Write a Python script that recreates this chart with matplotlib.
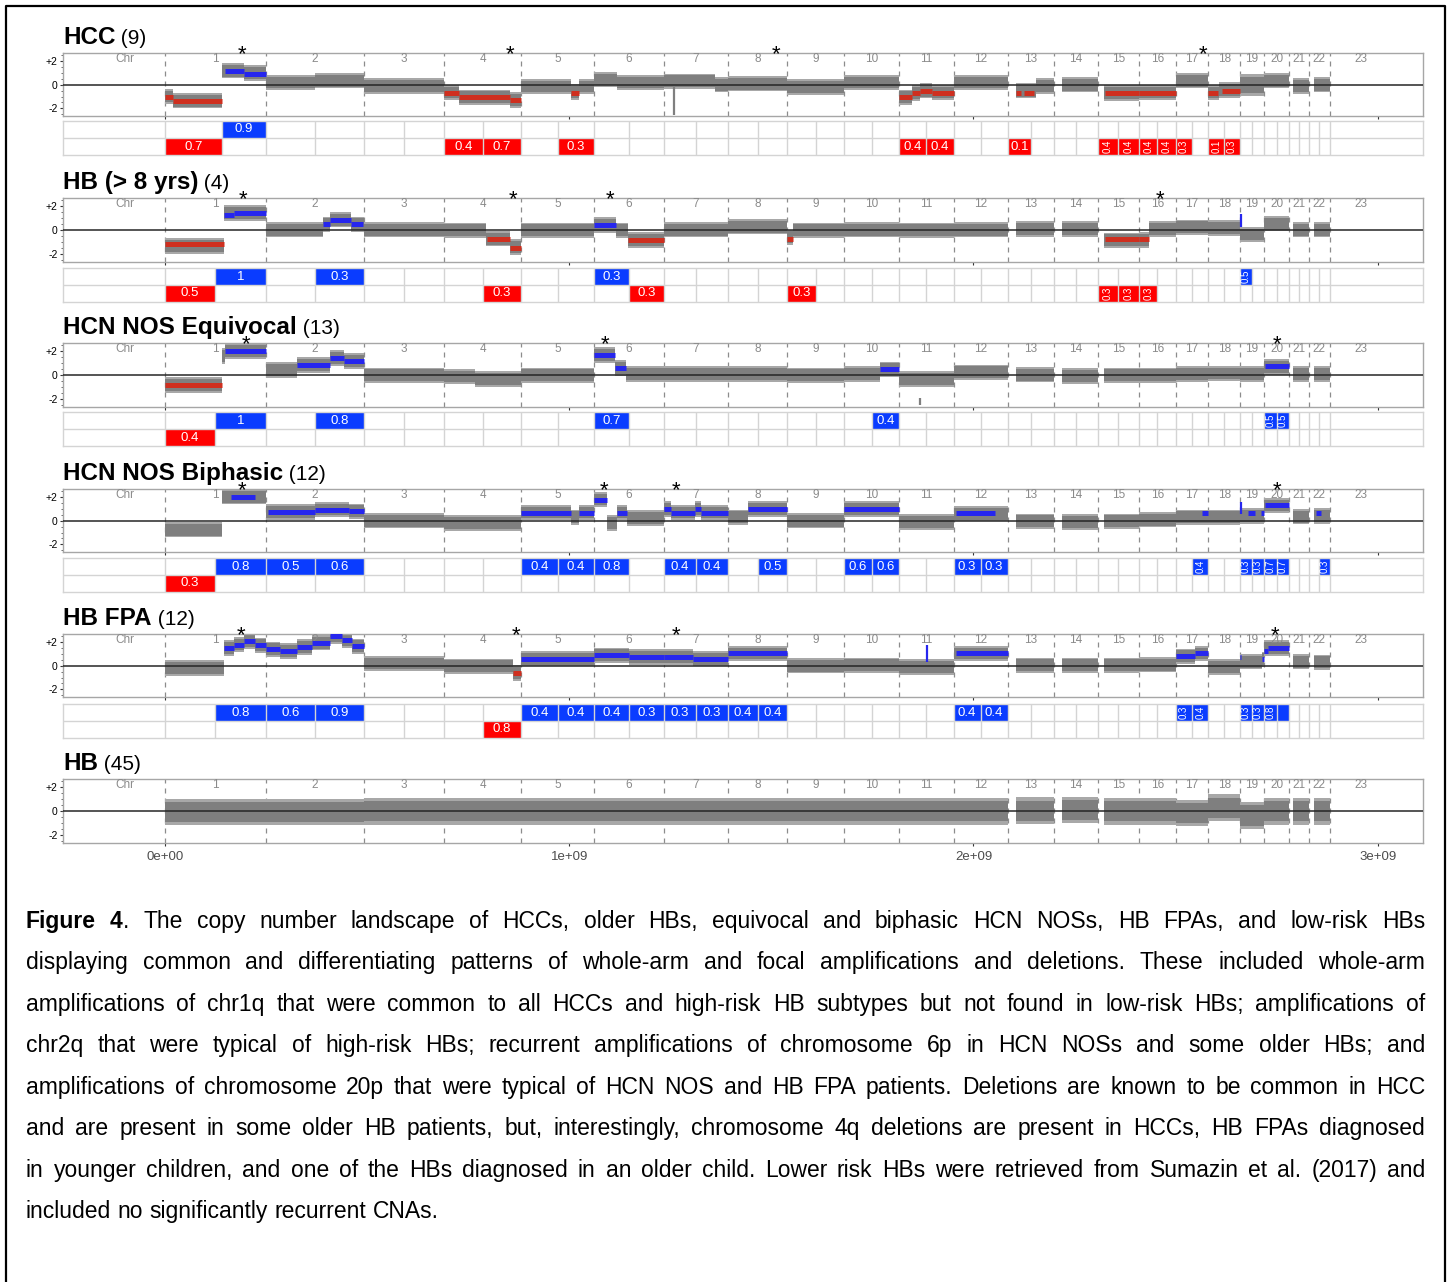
import numpy as np
import matplotlib
matplotlib.use("Agg")
import matplotlib.pyplot as plt
from matplotlib.lines import Line2D
from matplotlib.patches import Rectangle
from matplotlib.ticker import MultipleLocator
from matplotlib.font_manager import FontProperties

plt.rcParams['font.family'] = ['Liberation Sans', 'DejaVu Sans']

####################################################################################################
# DATA
####################################################################################################

chrom_names = [str(i) for i in range(1, 24)]
chrom_len_mb = [249.25, 243.2, 198.0, 191.15, 180.9, 171.1, 159.1, 146.4, 141.2, 135.5, 135.0,
                133.85, 115.2, 107.35, 102.5, 90.35, 81.2, 78.1, 59.1, 63.0, 48.1, 51.3, 155.3]

titles = ['HCC', 'HB (> 8 yrs)', 'HCN NOS Equivocal', 'HCN NOS Biphasic', 'HB FPA', 'HB']
counts = ['(9)', '(4)', '(13)', '(12)', '(12)', '(45)']

# gray clouds: (chrom, start frac, end frac, level[, half width])
hcc_gray = [(1, 0.0, 0.08, -1.0), (1, 0.08, 0.57, -1.35), (1, 0.57, 0.79, 1.2), (1, 0.79, 1.0, 1.0),
            (2, 0.0, 0.5, 0.2), (2, 0.5, 1.0, 0.35), (3, 0.0, 1.0, -0.1),
            (4, 0.0, 0.2, -0.65), (4, 0.2, 0.85, -1.05), (4, 0.85, 1.0, -1.3),
            (5, 0.0, 0.68, -0.15), (5, 0.68, 0.79, -0.6), (5, 0.79, 1.0, -0.15),
            (6, 0.0, 0.33, 0.45), (6, 0.33, 1.0, 0.2), (7, 0.0, 0.8, 0.3), (7, 0.8, 1.0, 0.0),
            (8, 0.0, 1.0, 0.1), (9, 0.0, 1.0, -0.2), (10, 0.0, 1.0, 0.2),
            (11, 0.0, 0.24, -1.05), (11, 0.24, 0.38, -0.7), (11, 0.38, 0.6, -0.5), (11, 0.6, 1.0, -0.65),
            (12, 0.0, 1.0, 0.2), (13, 0.17, 0.6, -0.5), (13, 0.6, 1.0, -0.1), (14, 0.18, 1.0, 0.0),
            (15, 0.15, 1.0, -0.7), (16, 0.0, 1.0, -0.65), (17, 0.0, 1.0, 0.35),
            (18, 0.0, 0.35, -0.65), (18, 0.35, 1.0, -0.45), (19, 0.0, 1.0, 0.0, 0.7),
            (20, 0.0, 1.0, 0.35), (21, 0.17, 1.0, -0.1), (22, 0.24, 1.0, 0.0)]
hcc_amp = [(1, 0.6, 0.79, 1.2), (1, 0.79, 1.0, 0.95)]
hcc_del = [(1, 0.0, 0.08, -1.0), (1, 0.08, 0.57, -1.35), (4, 0.0, 0.2, -0.67), (4, 0.2, 0.85, -1.07),
           (4, 0.85, 1.0, -1.26), (5, 0.68, 0.79, -0.7), (11, 0.0, 0.24, -1.07), (11, 0.24, 0.38, -0.67),
           (11, 0.38, 0.6, -0.5), (11, 0.6, 1.0, -0.67), (13, 0.18, 0.28, -0.7), (13, 0.35, 0.56, -0.7),
           (15, 0.17, 1.0, -0.7), (16, 0.0, 1.0, -0.7), (18, 0.0, 0.3, -0.7), (18, 0.42, 1.0, -0.5)]
hcc_spikes = [(7, 0.16, -2.6, 0.0, 'gray')]
hcc_amp_cells = [(1, 1, '0.9')]
hcc_del_cells = [(1, 0, '0.7'), (4, 0, '0.4'), (4, 1, '0.7'), (5, 1, '0.3'), (11, 0, '0.4'), (11, 1, '0.4'),
                 (13, 0, '0.1'), (15, 0, '0.4'), (15, 1, '0.4'), (16, 0, '0.4'), (16, 1, '0.4'),
                 (17, 0, '0.3'), (18, 0, '0.1'), (18, 1, '0.3')]
hcc_stars = [(1, 0.77), (4, 0.85), (8, 0.81), (17, 0.83)]

hb8_gray = [(1, 0.0, 0.585, -1.3), (1, 0.585, 1.0, 1.45),
            (2, 0.0, 0.58, 0.05), (2, 0.58, 0.65, 0.5), (2, 0.65, 0.87, 0.9), (2, 0.87, 1.0, 0.5),
            (3, 0.0, 1.0, 0.05), (4, 0.0, 0.54, 0.0), (4, 0.54, 0.85, -0.7), (4, 0.85, 1.0, -1.4),
            (5, 0.0, 1.0, 0.0), (6, 0.0, 0.31, 0.45), (6, 0.31, 0.48, 0.0), (6, 0.48, 1.0, -0.8),
            (7, 0.0, 1.0, 0.05), (8, 0.0, 1.0, 0.3), (9, 0.0, 0.1, -0.6), (9, 0.1, 1.0, 0.0),
            (10, 0.0, 1.0, 0.05), (11, 0.0, 1.0, 0.0), (12, 0.0, 1.0, 0.05), (13, 0.17, 1.0, 0.1),
            (14, 0.18, 1.0, 0.1), (15, 0.15, 1.0, -0.85), (16, 0.0, 0.27, -0.8), (16, 0.27, 1.0, 0.1),
            (17, 0.0, 1.0, 0.25), (18, 0.0, 1.0, 0.2), (19, 0.0, 1.0, -0.35), (20, 0.0, 1.0, 0.55),
            (21, 0.17, 1.0, 0.05), (22, 0.24, 1.0, 0.05)]
hb8_amp = [(1, 0.585, 0.69, 1.25), (1, 0.69, 1.0, 1.45), (2, 0.58, 0.65, 0.5), (2, 0.65, 0.87, 0.85),
           (2, 0.87, 0.99, 0.5), (6, 0.0, 0.31, 0.45)]
hb8_del = [(1, 0.0, 0.585, -1.15), (4, 0.56, 0.85, -0.75), (4, 0.85, 1.0, -1.5), (6, 0.48, 1.0, -0.85),
           (9, 0.0, 0.1, -0.7), (15, 0.17, 1.0, -0.75), (16, 0.0, 0.27, -0.75)]
hb8_spikes = [(19, 0.04, 0.3, 1.4, 'blue')]
hb8_amp_cells = [(1, 1, '1'), (2, 1, '0.3'), (6, 0, '0.3'), (19, 0, '0.5')]
hb8_del_cells = [(1, 0, '0.5'), (4, 1, '0.3'), (6, 1, '0.3'), (9, 0, '0.3'), (15, 0, '0.3'),
                 (15, 1, '0.3'), (16, 0, '0.3')]
hb8_stars = [(1, 0.78), (4, 0.89), (6, 0.22), (16, 0.57)]

eq_gray = [(1, 0.0, 0.57, -0.8), (1, 0.57, 0.6, 1.6), (1, 0.6, 1.0, 2.0),
           (2, 0.0, 0.32, 0.45), (2, 0.32, 0.65, 0.85), (2, 0.65, 0.8, 1.45), (2, 0.8, 1.0, 1.2),
           (3, 0.0, 1.0, 0.0), (4, 0.0, 0.4, -0.1), (4, 0.4, 1.0, -0.3), (5, 0.0, 1.0, 0.0),
           (6, 0.0, 0.3, 1.7), (6, 0.3, 0.46, 0.6), (6, 0.46, 1.0, 0.1),
           (7, 0.0, 1.0, 0.1), (8, 0.0, 1.0, 0.1), (9, 0.0, 1.0, 0.0), (10, 0.0, 0.65, 0.1),
           (10, 0.65, 1.0, 0.5), (11, 0.0, 1.0, -0.3), (12, 0.0, 1.0, 0.25), (13, 0.17, 1.0, 0.05),
           (14, 0.18, 1.0, -0.05), (15, 0.15, 1.0, 0.0), (16, 0.0, 1.0, 0.0), (17, 0.0, 1.0, 0.1),
           (18, 0.0, 1.0, 0.15), (19, 0.0, 1.0, 0.1), (20, 0.0, 1.0, 0.7), (21, 0.17, 1.0, 0.1),
           (22, 0.24, 1.0, 0.1)]
eq_amp = [(1, 0.6, 1.0, 2.0), (2, 0.32, 0.65, 0.85), (2, 0.65, 0.8, 1.45), (2, 0.8, 1.0, 1.2),
          (6, 0.0, 0.3, 1.7), (6, 0.3, 0.46, 0.6), (10, 0.65, 1.0, 0.5), (20, 0.05, 1.0, 0.75)]
eq_del = [(1, 0.0, 0.57, -0.8)]
eq_spikes = [(11, 0.38, -2.5, -1.9, 'gray')]
eq_amp_cells = [(1, 1, '1'), (2, 1, '0.8'), (6, 0, '0.7'), (10, 1, '0.4'), (20, 0, '0.5'), (20, 1, '0.5')]
eq_del_cells = [(1, 0, '0.4')]
eq_stars = [(1, 0.81), (6, 0.16), (20, 0.51)]

bi_gray = [(1, 0.0, 0.57, -0.75), (1, 0.57, 1.0, 2.05),
           (2, 0.0, 0.5, 0.75), (2, 0.5, 0.85, 0.95), (2, 0.85, 1.0, 0.8),
           (3, 0.0, 1.0, 0.0), (4, 0.0, 1.0, -0.2),
           (5, 0.0, 0.68, 0.7), (5, 0.68, 0.79, 0.3), (5, 0.79, 1.0, 0.7),
           (6, 0.0, 0.18, 1.8), (6, 0.18, 0.32, -0.2), (6, 0.32, 0.47, 0.7), (6, 0.47, 1.0, 0.25),
           (7, 0.0, 0.11, 1.0), (7, 0.11, 0.49, 0.7), (7, 0.49, 0.58, 1.0), (7, 0.58, 1.0, 0.7),
           (8, 0.0, 0.34, 0.3), (8, 0.34, 1.0, 1.0), (9, 0.0, 1.0, 0.0), (10, 0.0, 1.0, 1.0),
           (11, 0.0, 1.0, -0.1), (12, 0.0, 1.0, 0.6), (13, 0.17, 1.0, -0.05), (14, 0.18, 1.0, -0.1),
           (15, 0.15, 1.0, -0.05), (16, 0.0, 1.0, 0.1), (17, 0.0, 1.0, 0.3), (18, 0.0, 1.0, 0.3),
           (19, 0.0, 1.0, 0.4), (20, 0.0, 1.0, 1.3), (21, 0.17, 1.0, 0.35), (22, 0.24, 1.0, 0.4)]
bi_amp = [(1, 0.66, 0.89, 2.05), (2, 0.02, 0.5, 0.75), (2, 0.5, 0.85, 0.95), (2, 0.85, 1.0, 0.8),
          (5, 0.0, 0.68, 0.7), (5, 0.79, 1.0, 0.7), (6, 0.0, 0.18, 1.8), (6, 0.32, 0.47, 0.7),
          (7, 0.0, 0.11, 1.0), (7, 0.11, 0.49, 0.7), (7, 0.49, 0.58, 1.0), (7, 0.58, 1.0, 0.7),
          (8, 0.34, 1.0, 1.0), (10, 0.0, 1.0, 1.0), (12, 0.04, 0.76, 0.7), (17, 0.8, 0.98, 0.7),
          (19, 0.35, 0.62, 0.7), (19, 0.88, 1.0, 0.7), (20, 0.05, 1.0, 1.3), (22, 0.34, 0.58, 0.7)]
bi_del = []
bi_spikes = [(19, 0.04, 0.6, 1.6, 'blue')]
bi_amp_cells = [(1, 1, '0.8'), (2, 0, '0.5'), (2, 1, '0.6'), (5, 0, '0.4'), (5, 1, '0.4'), (6, 0, '0.8'),
                (7, 0, '0.4'), (7, 1, '0.4'), (8, 1, '0.5'), (10, 0, '0.6'), (10, 1, '0.6'),
                (12, 0, '0.3'), (12, 1, '0.3'), (17, 1, '0.4'), (19, 0, '0.3'), (19, 1, '0.3'),
                (20, 0, '0.7'), (20, 1, '0.7'), (22, 1, '0.3')]
bi_del_cells = [(1, 0, '0.3')]
bi_stars = [(1, 0.77), (6, 0.14), (7, 0.19), (20, 0.51)]

fpa_gray = [(1, 0.0, 0.585, -0.2), (1, 0.585, 0.69, 1.5), (1, 0.69, 0.79, 1.8), (1, 0.79, 0.89, 2.1),
            (1, 0.89, 1.0, 1.75), (2, 0.0, 0.145, 1.4), (2, 0.145, 0.315, 1.25), (2, 0.315, 0.467, 1.6),
            (2, 0.467, 0.653, 1.95), (2, 0.653, 0.772, 2.5), (2, 0.772, 0.874, 2.15), (2, 0.874, 1.0, 1.65),
            (3, 0.0, 1.0, 0.2), (4, 0.0, 0.89, -0.05), (4, 0.89, 1.0, -0.6),
            (5, 0.0, 1.0, 0.6), (6, 0.0, 0.5, 0.9), (6, 0.5, 1.0, 0.75), (7, 0.0, 0.45, 0.75),
            (7, 0.45, 1.0, 0.6), (8, 0.0, 1.0, 1.05), (9, 0.0, 1.0, 0.0), (10, 0.0, 1.0, 0.05),
            (11, 0.0, 1.0, -0.1), (12, 0.0, 1.0, 1.05), (13, 0.17, 1.0, 0.05), (14, 0.18, 1.0, 0.05),
            (15, 0.15, 1.0, 0.05), (16, 0.0, 1.0, 0.1), (17, 0.0, 0.585, 0.8), (17, 0.585, 1.0, 1.05),
            (18, 0.0, 1.0, -0.1), (19, 0.0, 0.9, 0.35), (19, 0.9, 1.0, 0.55), (20, 0.0, 1.0, 1.5),
            (21, 0.17, 1.0, 0.35), (22, 0.24, 1.0, 0.3)]
fpa_amp = [(1, 0.585, 0.69, 1.5), (1, 0.69, 0.79, 1.8), (1, 0.79, 0.89, 2.1), (1, 0.89, 1.0, 1.75),
           (2, 0.0, 0.145, 1.4), (2, 0.145, 0.315, 1.25), (2, 0.315, 0.467, 1.6), (2, 0.467, 0.653, 1.95),
           (2, 0.653, 0.772, 2.5), (2, 0.772, 0.874, 2.15), (2, 0.874, 1.0, 1.65),
           (5, 0.0, 1.0, 0.6), (6, 0.0, 0.5, 0.9), (6, 0.5, 1.0, 0.75), (7, 0.0, 0.45, 0.75),
           (7, 0.45, 1.0, 0.6), (8, 0.0, 1.0, 1.05), (12, 0.04, 1.0, 1.05), (17, 0.02, 0.585, 0.8),
           (17, 0.585, 1.0, 1.05), (19, 0.02, 0.06, 0.75), (19, 0.9, 1.0, 0.55), (20, 0.0, 0.15, 1.25),
           (20, 0.15, 1.0, 1.55)]
fpa_del = [(4, 0.89, 1.0, -0.6)]
fpa_spikes = [(11, 0.51, 0.3, 1.8, 'blue')]
fpa_amp_cells = [(1, 1, '0.8'), (2, 0, '0.6'), (2, 1, '0.9'), (5, 0, '0.4'), (5, 1, '0.4'), (6, 0, '0.4'),
                 (6, 1, '0.3'), (7, 0, '0.3'), (7, 1, '0.3'), (8, 0, '0.4'), (8, 1, '0.4'),
                 (12, 0, '0.4'), (12, 1, '0.4'), (17, 0, '0.3'), (17, 1, '0.4'), (19, 0, '0.3'),
                 (19, 1, '0.3'), (20, 0, '0.8'), (20, 1, '')]
fpa_del_cells = [(4, 1, '0.8')]
fpa_stars = [(1, 0.76), (4, 0.93), (7, 0.19), (20, 0.43)]

hb_gray = [(1, 0.0, 1.0, -0.05, 0.85), (2, 0.0, 1.0, -0.05, 0.85), (3, 0.0, 1.0, 0.0, 0.85),
           (4, 0.0, 1.0, 0.0, 0.85), (5, 0.0, 1.0, 0.0, 0.85), (6, 0.0, 1.0, 0.0, 0.85),
           (7, 0.0, 1.0, 0.0, 0.85), (8, 0.0, 1.0, 0.0, 0.85), (9, 0.0, 1.0, 0.0, 0.85),
           (10, 0.0, 1.0, 0.0, 0.85), (11, 0.0, 1.0, 0.0, 0.85), (12, 0.0, 1.0, 0.0, 0.85),
           (13, 0.17, 1.0, 0.05, 0.85), (14, 0.18, 1.0, 0.1, 0.85), (15, 0.15, 1.0, 0.0, 0.85),
           (16, 0.0, 1.0, 0.0, 0.85), (17, 0.0, 1.0, -0.15, 0.85), (18, 0.0, 1.0, 0.3, 0.85),
           (19, 0.0, 1.0, -0.35, 0.85), (20, 0.0, 1.0, 0.0, 0.85), (21, 0.17, 1.0, 0.0, 0.85),
           (22, 0.24, 1.0, 0.0, 0.85)]

split_override = [{1: 0.57}, {}, {}, {}, {}, {}]

xticks = [0, 1e9, 2e9, 3e9]
xtick_labels = ['0e+00', '1e+09', '2e+09', '3e+09']

caption_bold = 'Figure 4'
caption = [
    'Figure 4. The copy number landscape of HCCs, older HBs, equivocal and biphasic HCN NOSs, HB FPAs, and low-risk HBs',
    'displaying common and differentiating patterns of whole-arm and focal amplifications and deletions. These included whole-arm',
    'amplifications of chr1q that were common to all HCCs and high-risk HB subtypes but not found in low-risk HBs; amplifications of',
    'chr2q that were typical of high-risk HBs; recurrent amplifications of chromosome 6p in HCN NOSs and some older HBs; and',
    'amplifications of chromosome 20p that were typical of HCN NOS and HB FPA patients. Deletions are known to be common in HCC',
    'and are present in some older HB patients, but, interestingly, chromosome 4q deletions are present in HCCs, HB FPAs diagnosed',
    'in younger children, and one of the HBs diagnosed in an older child. Lower risk HBs were retrieved from Sumazin et al. (2017) and',
    'included no significantly recurrent CNAs.',
]

panels = [
    dict(gray=hcc_gray, amp=hcc_amp, dele=hcc_del, spikes=hcc_spikes, acell=hcc_amp_cells, dcell=hcc_del_cells, stars=hcc_stars),
    dict(gray=hb8_gray, amp=hb8_amp, dele=hb8_del, spikes=hb8_spikes, acell=hb8_amp_cells, dcell=hb8_del_cells, stars=hb8_stars),
    dict(gray=eq_gray, amp=eq_amp, dele=eq_del, spikes=eq_spikes, acell=eq_amp_cells, dcell=eq_del_cells, stars=eq_stars),
    dict(gray=bi_gray, amp=bi_amp, dele=bi_del, spikes=bi_spikes, acell=bi_amp_cells, dcell=bi_del_cells, stars=bi_stars),
    dict(gray=fpa_gray, amp=fpa_amp, dele=fpa_del, spikes=fpa_spikes, acell=fpa_amp_cells, dcell=fpa_del_cells, stars=fpa_stars),
    dict(gray=hb_gray, amp=[], dele=[], spikes=[], acell=None, dcell=None, stars=[]),
]

####################################################################################################
# LAYOUT / STYLE
####################################################################################################

W, H = 1449, 1282
MAIN_ROWS = [(53, 116), (198, 262), (343, 407), (489, 552), (634, 697), (779, 843)]
TABLE_ROWS = [(121, 155), (268, 302), (412, 446), (558, 592), (704, 738), None]
X_LEFT, X_RIGHT = 63, 1423
XLIM = (-252e6, 3112e6)
YLIM = (-2.65, 2.7)

GRAY = '#7f7f7f'
HALO = '#a8a8a8'
SEG_BLUE = '#2626ee'
SEG_RED = '#cf2f1f'
CELL_BLUE = '#0a3cff'
CELL_RED = '#ff0000'
GRID = '#d4d4d4'
SPINE = '#a6a6a6'

chrom_start = np.concatenate([[0.0], np.cumsum(chrom_len_mb)[:-1]])


def gx(c, f):
    return (chrom_start[c - 1] + f * chrom_len_mb[c - 1]) * 1e6


fig = plt.figure(figsize=(W / 100, H / 100), dpi=100)
renderer = fig.canvas.get_renderer()


def px_axes(x0, y0, x1, y1):
    return fig.add_axes([x0 / W, 1 - y1 / H, (x1 - x0) / W, (y1 - y0) / H])


def text_width(s, size, weight='normal'):
    prop = FontProperties(family=['Liberation Sans', 'DejaVu Sans'], size=size, weight=weight)
    w, h, d = renderer.get_text_width_height_descent(s, prop, ismath=False)
    return w


spike_colors = {'gray': GRAY, 'blue': SEG_BLUE}

for i, p in enumerate(panels):
    top, bot = MAIN_ROWS[i]
    ax = px_axes(X_LEFT, top, X_RIGHT, bot)
    ax.set_xlim(*XLIM)
    ax.set_ylim(*YLIM)
    for s in ax.spines.values():
        s.set_color(SPINE)
        s.set_linewidth(1.0)

    # chromosome boundaries and labels
    for c in range(1, 24):
        ax.axvline(gx(c, 0), color='#8c8c8c', lw=0.9, ls=(0, (4, 4)), zorder=1)
        ax.text(gx(c, 0.5), 2.2, chrom_names[c - 1], ha='center', va='center',
                fontsize=8.5, color='#8a8a8a')
    ax.text(-100e6, 2.2, 'Chr', ha='center', va='center', fontsize=8.5, color='#8a8a8a')

    # gray clouds (dense core plus sparse halo)
    for seg in p['gray']:
        c, f0, f1, lvl = seg[:4]
        hw = seg[4] if len(seg) > 4 else 0.5
        x0, x1 = gx(c, f0), gx(c, f1)
        ax.add_patch(Rectangle((x0, lvl - hw * 1.3), x1 - x0, 2.6 * hw,
                               facecolor=HALO, edgecolor='none', zorder=2))
        ax.add_patch(Rectangle((x0, lvl - hw), x1 - x0, 2 * hw,
                               facecolor=GRAY, edgecolor='none', zorder=2))
    for c, f, y0, y1, col in p['spikes']:
        ax.vlines(gx(c, f), y0, y1, colors=spike_colors[col], lw=1.6, zorder=3)

    ax.axhline(0, color='#262626', lw=1.1, zorder=4)

    for c, f0, f1, lvl in p['amp']:
        ax.hlines(lvl, gx(c, f0), gx(c, f1), colors=SEG_BLUE, lw=3.6, zorder=5)
    for c, f0, f1, lvl in p['dele']:
        ax.hlines(lvl, gx(c, f0), gx(c, f1), colors=SEG_RED, lw=3.6, zorder=5)

    for c, f in p['stars']:
        ax.annotate('*', xy=(gx(c, f), YLIM[1]), xytext=(0, -5.3), textcoords='offset points',
                    ha='center', va='baseline', fontsize=16, color='black', annotation_clip=False)

    # axes ticks
    ax.set_yticks([-2, 0, 2])
    ax.set_yticklabels(['-2', '0', '+2'])
    ax.yaxis.set_minor_locator(MultipleLocator(0.5))
    ax.tick_params(axis='y', which='major', labelsize=7.5, length=2.5, width=0.8, pad=1.5,
                   color='#333333', labelcolor='black')
    ax.tick_params(axis='y', which='minor', length=1.6, width=0.6, color='#555555')
    ax.set_xticks(xticks)
    ax.tick_params(axis='x', length=2.5, width=0.8, color='#333333', pad=3)
    if i == len(panels) - 1:
        ax.set_xticklabels(xtick_labels, fontsize=9.5, color='#4d4d4d')
    else:
        ax.set_xticklabels([])

    # title
    tb = top - 9
    t = fig.text(X_LEFT / W, 1 - tb / H, titles[i], fontsize=17.5, fontweight='bold', va='baseline')
    tw = t.get_window_extent(renderer).width
    fig.text((X_LEFT + tw) / W, 1 - tb / H, ' ' + counts[i], fontsize=15, va='baseline')

    # frequency table
    if TABLE_ROWS[i] is None:
        continue
    t0, t1 = TABLE_ROWS[i]
    tx = px_axes(X_LEFT, t0, X_RIGHT, t1)
    tx.set_xlim(*XLIM)
    tx.set_ylim(0, 2)
    tx.set_xticks([])
    tx.set_yticks([])
    for s in tx.spines.values():
        s.set_color(GRID)
        s.set_linewidth(1.0)
    splits = {c: split_override[i].get(c, 0.5) for c in range(1, 23)}
    for row, cells, col in ((1, p['acell'], CELL_BLUE), (0, p['dcell'], CELL_RED)):
        for c, half, val in cells:
            f0, f1 = (0.0, splits[c]) if half == 0 else (splits[c], 1.0)
            x0, x1 = gx(c, f0), gx(c, f1)
            tx.add_patch(Rectangle((x0, row), x1 - x0, 1, facecolor=col, edgecolor='none', zorder=1))
            narrow = (x1 - x0) < 54e6
            tx.text((x0 + x1) / 2, row + 0.5, val, ha='center', va='center', color='white',
                    fontsize=7 if narrow else 9.5, rotation=90 if narrow else 0, zorder=3)
    for c in range(1, 24):
        tx.axvline(gx(c, 0), color=GRID, lw=1.0, zorder=2)
        if c < 23:
            tx.axvline(gx(c, splits[c]), color=GRID, lw=1.0, zorder=2)
    tx.axhline(1, color=GRID, lw=1.0, zorder=2)

####################################################################################################
# CAPTION (justified)
####################################################################################################

CAP_X0, CAP_X1 = 26, 1425
CAP_BASE0, CAP_STEP = 928, 41.45


def caption_words(li, line):
    words = []
    pos = 0
    for w in line.split(' '):
        pieces = []
        if li == 0 and pos < len(caption_bold):
            nb = min(len(w), len(caption_bold) - pos)
            pieces.append((w[:nb], 'bold'))
            if nb < len(w):
                pieces.append((w[nb:], 'normal'))
        else:
            pieces.append((w, 'normal'))
        pos += len(w) + 1
        words.append(pieces)
    return words


cap_fs = 16.5
while True:
    widest = 0
    for li, line in enumerate(caption):
        ws = caption_words(li, line)
        tot = sum(text_width(s, cap_fs, wt) for pcs in ws for s, wt in pcs)
        tot += (len(ws) - 1) * text_width('a a', cap_fs) - (len(ws) - 1) * text_width('aa', cap_fs)
        widest = max(widest, tot)
    if widest <= (CAP_X1 - CAP_X0) * 0.985 or cap_fs < 12:
        break
    cap_fs -= 0.25

for li, line in enumerate(caption):
    ws = caption_words(li, line)
    widths = [sum(text_width(s, cap_fs, wt) for s, wt in pcs) for pcs in ws]
    if li < len(caption) - 1:
        gap = (CAP_X1 - CAP_X0 - sum(widths)) / (len(ws) - 1)
    else:
        gap = text_width('a a', cap_fs) - text_width('aa', cap_fs)
    x = CAP_X0
    yb = 1 - (CAP_BASE0 + li * CAP_STEP) / H
    for pcs, wd in zip(ws, widths):
        xx = x
        for s, wt in pcs:
            fig.text(xx / W, yb, s, fontsize=cap_fs, fontweight=wt, va='baseline', ha='left', color='black')
            xx += text_width(s, cap_fs, wt)
        x += wd + gap

# outer frame
fig.add_artist(Line2D([6 / W, 6 / W, 1445 / W, 1445 / W], [-0.01, 1 - 6 / H, 1 - 6 / H, -0.01],
                      transform=fig.transFigure, color='black', lw=1.6))

fig.savefig('out.png', dpi=100)
